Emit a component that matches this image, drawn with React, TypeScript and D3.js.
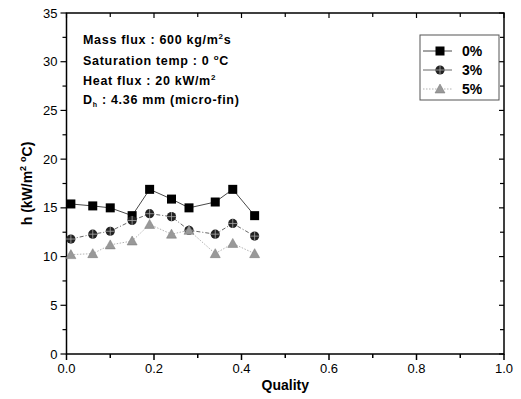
import React from "react";
import * as d3 from "d3";

const quality = [0.01, 0.06, 0.1, 0.15, 0.19, 0.24, 0.28, 0.34, 0.38, 0.43];
const h0 = [15.4, 15.2, 15.0, 14.2, 16.9, 15.9, 15.0, 15.6, 16.9, 14.2];
const h3 = [11.8, 12.3, 12.6, 13.7, 14.4, 14.1, 12.7, 12.3, 13.4, 12.1];
const h5 = [10.2, 10.3, 11.2, 11.6, 13.3, 12.3, 12.7, 10.3, 11.35, 10.3];
const seriesNames = ["0%", "3%", "5%"];
const xTicks = [0, 0.2, 0.4, 0.6, 0.8, 1.0];
const yTicks = [0, 5, 10, 15, 20, 25, 30, 35];

const W = 521, H = 399;
const L = 66.5, R = 504, T = 13, B = 354;

export default function App() {
  const x = d3.scaleLinear().domain([0, 1]).range([L, R]);
  const y = d3.scaleLinear().domain([0, 35]).range([B, T]);
  const line = d3.line<[number, number]>().x(d => x(d[0])).y(d => y(d[1]));
  const series = [h0, h3, h5].map(v => quality.map((q, i) => [q, v[i]] as [number, number]));
  const styles = [
    { stroke: "#333", dash: "", width: 0.9 },
    { stroke: "#555", dash: "4,2,1,2", width: 0.9 },
    { stroke: "#aaa", dash: "1.5,1.5", width: 0.9 },
  ];
  const marker = (k: number, cx: number, cy: number, key: string) => {
    if (k === 0) return <rect key={key} x={cx - 4.5} y={cy - 4.5} width={9} height={9} fill="#000" />;
    if (k === 1) return (
      <g key={key}>
        <circle cx={cx} cy={cy} r={4.6} fill="#222" />
        <path d={`M${cx - 4.6},${cy}H${cx + 4.6}M${cx},${cy - 4.6}V${cy + 4.6}`} stroke="#aaa" strokeWidth={0.8} />
      </g>
    );
    return (
      <path key={key} d={`M${cx},${cy - 5}L${cx + 5},${cy + 4}L${cx - 5},${cy + 4}Z`} fill="#999" stroke="#777" strokeWidth={0.5} />
    );
  };
  const xMinor = d3.range(0, 1.001, 0.1);
  const yMinor = d3.range(0, 35.01, 2.5);
  const font = "Arial, 'Liberation Sans', sans-serif";
  return (
    <svg width={W} height={H} style={{ position: "absolute", left: 0, top: 0 }} fontFamily={font}>
      <rect x={0} y={0} width={W} height={H} fill="#fff" />
      <rect x={L} y={T} width={R - L} height={B - T} fill="none" stroke="#000" strokeWidth={1.5} />
      {xMinor.map((v, i) => (
        <line key={"bx" + i} x1={x(v)} x2={x(v)} y1={B} y2={B + (i % 2 === 0 ? 6 : 4)} stroke="#000" strokeWidth={1.5} />
      ))}
      {xMinor.map((v, i) => (
        <line key={"tx" + i} x1={x(v)} x2={x(v)} y1={T} y2={T + (i % 2 === 0 ? 5 : 4)} stroke="#000" strokeWidth={1.2} />
      ))}
      {yMinor.map((v, i) => (
        <line key={"ly" + i} x1={L} x2={L - (i % 2 === 0 ? 6 : 4)} y1={y(v)} y2={y(v)} stroke="#000" strokeWidth={1.2} />
      ))}
      {yMinor.map((v, i) => (
        <line key={"ry" + i} x1={R} x2={R - (i % 2 === 0 ? 5 : 4)} y1={y(v)} y2={y(v)} stroke="#000" strokeWidth={1.2} />
      ))}
      {xTicks.map(v => (
        <text key={"xt" + v} x={x(v)} y={B + 19} textAnchor="middle" fontSize={13} fill="#000">{v.toFixed(1)}</text>
      ))}
      {yTicks.map(v => (
        <text key={"yt" + v} x={L - 9} y={y(v) + 4.5} textAnchor="end" fontSize={13} fill="#000">{v}</text>
      ))}
      <text x={(L + R) / 2} y={H - 9} textAnchor="middle" fontSize={14} fontWeight="bold">Quality</text>
      <text transform={`translate(32,${(T + B) / 2}) rotate(-90)`} textAnchor="middle" fontSize={14} fontWeight="bold">
        h (kW/m<tspan dy={-6} fontSize={9}>2</tspan><tspan dy={6}> </tspan><tspan dy={-6} fontSize={9}>o</tspan><tspan dy={6}>C)</tspan>
      </text>
      <g fontSize={12.5} fontWeight="bold" letterSpacing={0.7}>
        <text x={83} y={44}>Mass flux : 600 kg/m<tspan dy={-5} fontSize={8}>2</tspan><tspan dy={5}>s</tspan></text>
        <text x={83} y={65}>Saturation temp : 0 <tspan dy={-5} fontSize={8}>o</tspan><tspan dy={5}>C</tspan></text>
        <text x={83} y={85}>Heat flux : 20 kW/m<tspan dy={-5} fontSize={8}>2</tspan></text>
        <text x={83} y={104}>D<tspan dy={3} fontSize={7}>h</tspan><tspan dy={-3}> : 4.36 mm (micro-fin)</tspan></text>
      </g>
      {series.map((s, k) => (
        <path key={"l" + k} d={line(s) || ""} fill="none" stroke={styles[k].stroke} strokeWidth={styles[k].width} strokeDasharray={styles[k].dash} />
      ))}
      {series.map((s, k) => s.map((d, i) => marker(k, x(d[0]), y(d[1]), `m${k}-${i}`)))}
      <rect x={420} y={35} width={79} height={65} fill="#fff" stroke="#555" strokeWidth={1} />
      {seriesNames.map((n, k) => {
        const ly = 51 + k * 19;
        return (
          <g key={"lg" + k}>
            <line x1={423} x2={452} y1={ly} y2={ly} stroke={styles[k].stroke} strokeWidth={styles[k].width} strokeDasharray={k === 2 ? "1.5,1.5" : ""} />
            {marker(k, 440, ly, "lm" + k)}
            <text x={462} y={ly + 5} fontSize={14} fontWeight="bold">{n}</text>
          </g>
        );
      })}
    </svg>
  );
}
